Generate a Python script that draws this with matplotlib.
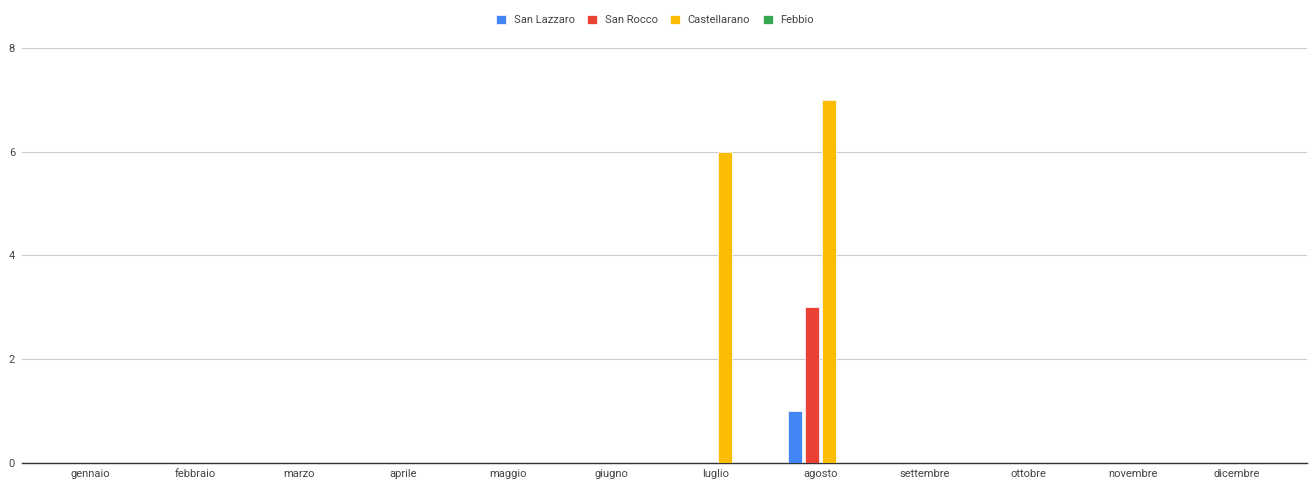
import numpy as np
import matplotlib.pyplot as plt

months = ['gennaio', 'febbraio', 'marzo', 'aprile', 'maggio', 'giugno',
          'luglio', 'agosto', 'settembre', 'ottobre', 'novembre', 'dicembre']
series = ['San Lazzaro', 'San Rocco', 'Castellarano', 'Febbio']
san_lazzaro = [0, 0, 0, 0, 0, 0, 0, 1, 0, 0, 0, 0]
san_rocco = [0, 0, 0, 0, 0, 0, 0, 3, 0, 0, 0, 0]
castellarano = [0, 0, 0, 0, 0, 0, 6, 7, 0, 0, 0, 0]
febbio = [0, 0, 0, 0, 0, 0, 0, 0, 0, 0, 0, 0]
colors = ['#4285F4', '#EA4335', '#FBBC04', '#34A853']

plt.rcParams['font.family'] = ['Roboto', 'DejaVu Sans']

fig = plt.figure(figsize=(13.1, 4.79), dpi=100)
ax = fig.add_axes([0.0168, 0.0334, 0.9809, 0.8664])

x = np.arange(len(months))
step = 0.163
width = 0.134
for i, (name, vals) in enumerate(zip(series, [san_lazzaro, san_rocco, castellarano, febbio])):
    ax.bar(x + (i - 1.5) * step, vals, width=width, color=colors[i], label=name,
           edgecolor='white', linewidth=0.5, zorder=3)

ax.set_xlim(-0.66, 11.67)
ax.set_ylim(0, 8)
ax.set_yticks([0, 2, 4, 6, 8])
ax.set_xticks(x)
ax.set_xticklabels(months)
ax.grid(axis='y', color='#cccccc', linewidth=0.8, zorder=0)
for s in ['top', 'right', 'left']:
    ax.spines[s].set_visible(False)
ax.spines['bottom'].set_color('#333333')
ax.spines['bottom'].set_linewidth(1)
ax.tick_params(axis='both', length=0, labelsize=8, colors='#444444')
ax.tick_params(axis='y', pad=5)
ax.tick_params(axis='x', pad=4.5)

leg = fig.legend(loc='upper center', bbox_to_anchor=(0.5, 0.99), ncol=4, frameon=False,
                 fontsize=8, handlelength=0.9, handleheight=0.9, handletextpad=0.7,
                 columnspacing=1.1)
for t in leg.get_texts():
    t.set_color('#444444')

fig.savefig('out.png', dpi=100)
